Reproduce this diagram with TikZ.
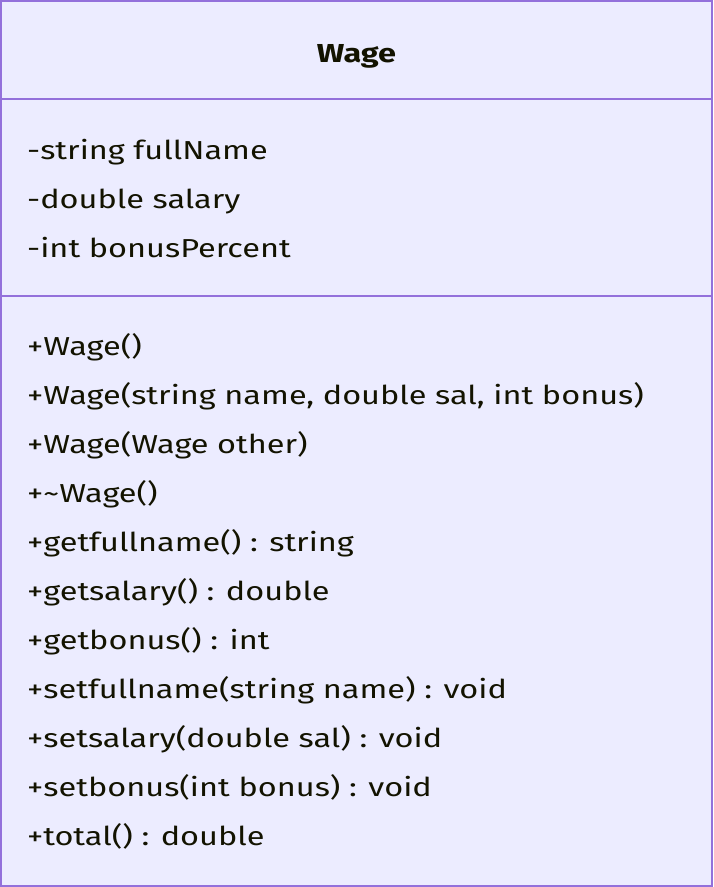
\documentclass[tikz,border=0pt]{standalone}
\usepackage{fontspec}
\setmainfont[FakeStretch=1.25]{Fira Sans}
\begin{document}
\begin{tikzpicture}[x=1pt,y=-1pt,
  classbox/.style={draw=umlborder,fill=umlfill,line width=2pt},
  divider/.style={draw=umlborder,line width=2pt},
  member/.style={anchor=base west,inner sep=0pt,font=\fontsize{26}{30}\selectfont,text=umltext},
  title/.style={anchor=base,inner sep=0pt,font=\fontsize{26}{30}\selectfont\bfseries,text=umltext}]
\definecolor{umlborder}{HTML}{9370DB}
\definecolor{umlfill}{HTML}{ECECFF}
\definecolor{umltext}{HTML}{131300}
\useasboundingbox (0,0) rectangle (713,887);
\draw[classbox] (1,1) rectangle (712,886);
\draw[divider] (1,99) -- (712,99);
\draw[divider] (1,296) -- (712,296);
\node[title] (name) at (356.5,62) {Wage};
\node[member] (a1) at (27,159) {-string fullName};
\node[member] (a2) at (27,208) {-double salary};
\node[member] (a3) at (27,257) {-int bonusPercent};
\node[member] (m1) at (27,355) {+Wage()};
\node[member] (m2) at (27,404) {+Wage(string name, double sal, int bonus)};
\node[member] (m3) at (27,453) {+Wage(Wage other)};
\node[member] (m4) at (27,502) {+\textasciitilde Wage()};
\node[member] (m5) at (27,551) {+getfullname() : string};
\node[member] (m6) at (27,600) {+getsalary() : double};
\node[member] (m7) at (27,649) {+getbonus() : int};
\node[member] (m8) at (27,698) {+setfullname(string name) : void};
\node[member] (m9) at (27,747) {+setsalary(double sal) : void};
\node[member] (m10) at (27,796) {+setbonus(int bonus) : void};
\node[member] (m11) at (27,845) {+total() : double};
\end{tikzpicture}
\end{document}
